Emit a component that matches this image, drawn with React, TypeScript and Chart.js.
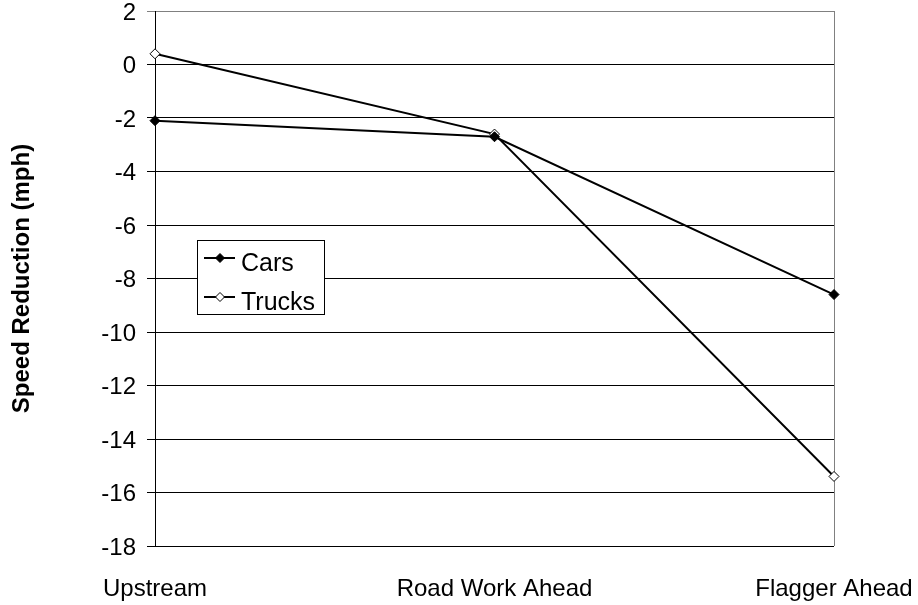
import React, { useEffect, useRef } from "react";
import { Chart, registerables } from "chart.js";

Chart.register(...registerables);

const categories = ["Upstream", "Road Work Ahead", "Flagger Ahead"];
const carsValues = [-2.1, -2.7, -8.6];
const trucksValues = [0.4, -2.6, -15.4];
const seriesNames = ["Cars", "Trucks"];
const yTitle = "Speed Reduction (mph)";
const yMin = -18;
const yMax = 2;
const yStep = 2;

const FONT = "Arial, 'Liberation Sans', sans-serif";

const legendPlugin = {
  id: "boxLegend",
  afterDraw(chart: any) {
    const ctx = chart.ctx;
    const x0 = 197, y0 = 240, w = 127, h = 74;
    ctx.save();
    ctx.fillStyle = "#fff";
    ctx.fillRect(x0, y0, w, h);
    ctx.strokeStyle = "#000";
    ctx.lineWidth = 1;
    ctx.strokeRect(x0 + 0.5, y0 + 0.5, w, h);
    const rows = [258, 297];
    chart.data.datasets.forEach((ds: any, i: number) => {
      const y = rows[i];
      ctx.strokeStyle = "#000";
      ctx.lineWidth = 2;
      ctx.beginPath();
      ctx.moveTo(204, y);
      ctx.lineTo(235, y);
      ctx.stroke();
      const r = 4.5;
      ctx.beginPath();
      ctx.moveTo(220, y - r);
      ctx.lineTo(220 + r, y);
      ctx.lineTo(220, y + r);
      ctx.lineTo(220 - r, y);
      ctx.closePath();
      ctx.fillStyle = ds.pointBackgroundColor;
      ctx.fill();
      ctx.lineWidth = 1;
      ctx.stroke();
      ctx.fillStyle = "#000";
      ctx.font = `25px ${FONT}`;
      ctx.textBaseline = "alphabetic";
      ctx.textAlign = "left";
      ctx.fillText(ds.label, 241, y + 13);
    });
    ctx.restore();
  },
};

export default function App() {
  const ref = useRef<HTMLCanvasElement>(null);
  useEffect(() => {
    if (!ref.current) return;
    const chart = new Chart(ref.current, {
      type: "line",
      data: {
        labels: categories,
        datasets: [
          {
            label: seriesNames[0],
            data: carsValues,
            borderColor: "#000",
            borderWidth: 2,
            pointStyle: "rectRot",
            pointRadius: 5,
            pointBackgroundColor: "#000",
            pointBorderColor: "#000",
            pointBorderWidth: 1,
            tension: 0,
          },
          {
            label: seriesNames[1],
            data: trucksValues,
            borderColor: "#000",
            borderWidth: 2,
            pointStyle: "rectRot",
            pointRadius: 5,
            pointBackgroundColor: "#fff",
            pointBorderColor: "#000",
            pointBorderWidth: 1,
            tension: 0,
          },
        ],
      },
      options: {
        responsive: false,
        animation: false,
        layout: { padding: { top: 11, right: 84, left: 0, bottom: 0 } },
        plugins: {
          legend: { display: false },
          tooltip: { enabled: false },
        },
        scales: {
          x: {
            type: "category",
            offset: false,
            grid: {
              display: true,
              drawTicks: false,
              color: (c: any) => (c.index === categories.length - 1 ? "#808080" : "rgba(0,0,0,0)"),
            },
            border: { display: false },
            ticks: {
              color: "#000",
              font: { family: FONT, size: 24 },
              padding: 29,
              maxRotation: 0,
              autoSkip: false,
            },
            afterFit: (s: any) => {
              s.height = 59;
              s.paddingLeft = 0;
              s.paddingRight = 0;
            },
          },
          y: {
            min: yMin,
            max: yMax,
            ticks: {
              stepSize: yStep,
              color: "#000",
              font: { family: FONT, size: 24 },
              padding: 11,
              labelOffset: 2,
            },
            grid: {
              color: (c: any) => (c.tick && c.tick.value === yMax ? "#808080" : "#000"),
              tickLength: 8,
              lineWidth: 1,
            },
            border: { display: true, color: "#000", width: 1 },
            title: {
              display: true,
              text: yTitle,
              color: "#000",
              font: { family: FONT, size: 24, weight: "bold" },
              padding: { top: 8, bottom: 0 },
            },
            afterFit: (s: any) => {
              s.width = 155;
              s.paddingTop = 0;
              s.paddingBottom = 0;
            },
          },
        },
      },
      plugins: [legendPlugin],
    });
    return () => chart.destroy();
  }, []);
  return (
    <div style={{ position: "fixed", left: 0, top: 0, width: 918, height: 605, background: "#fff" }}>
      <canvas ref={ref} width={918} height={605} />
    </div>
  );
}
